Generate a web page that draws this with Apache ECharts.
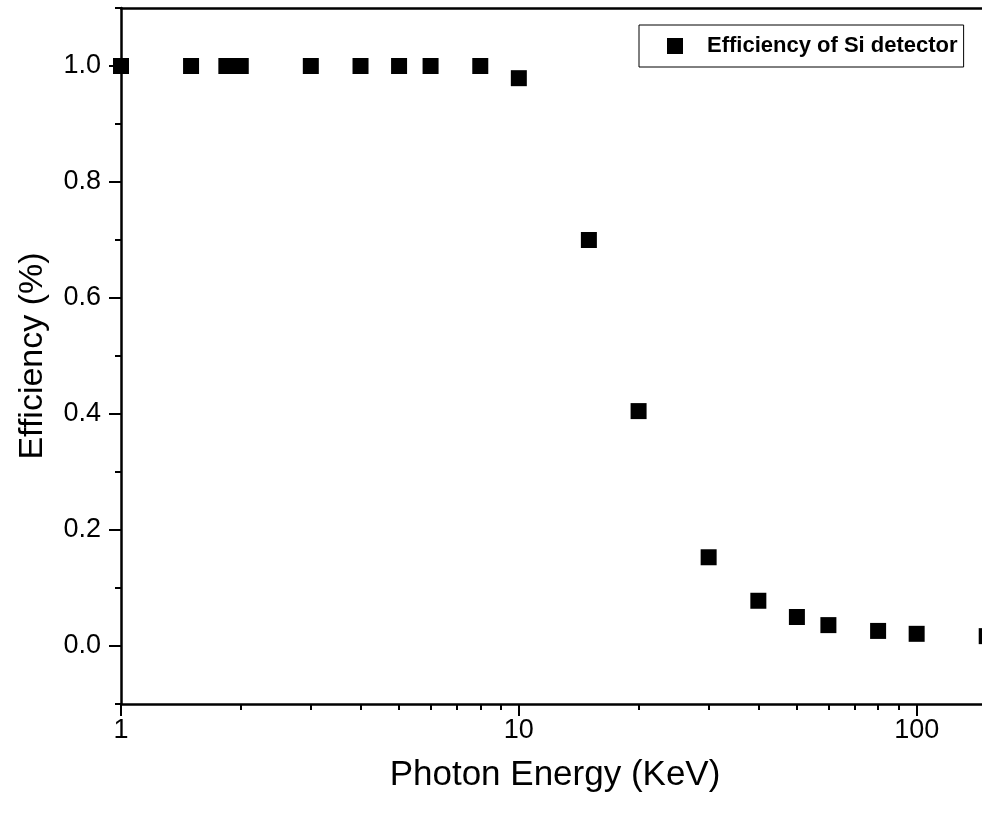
<!DOCTYPE html>
<html>
<head>
<meta charset="utf-8">
<script src="https://cdn.jsdelivr.net/npm/echarts@6/dist/echarts.min.js"></script>
<style>
html,body{margin:0;padding:0;background:#fff;}
#chart{width:982px;height:815px;}
</style>
</head>
<body>
<div id="chart"></div>
<script>
// Data
const energies = [1, 1.5, 1.84, 2, 3, 4, 5, 6, 8, 10, 15, 20, 30, 40, 50, 60, 80, 100, 150];
const efficiency = [1.0, 1.0, 1.0, 1.0, 1.0, 1.0, 1.0, 1.0, 1.0, 0.979, 0.700, 0.405, 0.153, 0.078, 0.050, 0.036, 0.026, 0.021, 0.017];
const xMajorTicks = [1, 10, 100];
const xMinorTicks = [2, 3, 4, 5, 6, 7, 8, 9, 20, 30, 40, 50, 60, 70, 80, 90];
const yMajorTicks = [0, 0.2, 0.4, 0.6, 0.8, 1.0];
const yMinorTicks = [-0.1, 0.1, 0.3, 0.5, 0.7, 0.9, 1.1];
const seriesName = 'Efficiency of Si detector';
const xTitle = 'Photon Energy (KeV)';
const yTitle = 'Efficiency (%)';

const FONT = '"Liberation Sans", Arial, Helvetica, sans-serif';
const chart = echarts.init(document.getElementById('chart'), null, {renderer: 'canvas'});
const pts = energies.map((e, i) => [e, efficiency[i]]);
const axisLine = {show: true, onZero: false, lineStyle: {color: '#000', width: 2.5}};

chart.setOption({
  animation: false,
  backgroundColor: '#fff',
  grid: {left: 121, right: -7, top: 8, bottom: 111, containLabel: false, outerBoundsMode: 'none'},
  legend: {
    left: 639, top: 25,
    padding: [10, 6, 10, 28],
    borderColor: '#000', borderWidth: 1,
    itemWidth: 16, itemHeight: 16,
    icon: 'rect',
    itemStyle: {color: '#000', opacity: 1},
    textStyle: {fontFamily: FONT, fontSize: 22, fontWeight: 'bold', color: '#000', padding: [0, 0, 0, 19]},
    data: [seriesName]
  },
  xAxis: [
    {
      type: 'log', logBase: 10, min: 1, max: 152, position: 'bottom',
      axisLine: axisLine,
      axisTick: {show: true, inside: false, length: 12, lineStyle: {color: '#000', width: 2}, customValues: xMajorTicks},
      axisLabel: {show: true, customValues: xMajorTicks, fontFamily: FONT, fontSize: 27, color: '#000', margin: 13,
        formatter: v => String(Math.round(v))},
      splitLine: {show: false}, minorTick: {show: false},
      name: xTitle, nameLocation: 'middle', nameGap: 54,
      nameTextStyle: {fontFamily: FONT, fontSize: 35, color: '#000'}
    },
    {
      type: 'log', logBase: 10, min: 1, max: 152, position: 'bottom',
      axisLine: {show: false, onZero: false},
      axisTick: {show: true, inside: false, length: 6, lineStyle: {color: '#000', width: 2}, customValues: xMinorTicks},
      axisLabel: {show: false}, splitLine: {show: false}
    },
    {
      type: 'log', logBase: 10, min: 1, max: 152, position: 'top',
      axisLine: axisLine, axisTick: {show: false}, axisLabel: {show: false}, splitLine: {show: false}
    }
  ],
  yAxis: [
    {
      type: 'value', min: -0.1, max: 1.1, position: 'left',
      axisLine: axisLine,
      axisTick: {show: true, inside: false, length: 12, lineStyle: {color: '#000', width: 2}, customValues: yMajorTicks},
      axisLabel: {show: true, customValues: yMajorTicks, fontFamily: FONT, fontSize: 27, color: '#000', margin: 20,
        formatter: v => v.toFixed(1)},
      splitLine: {show: false},
      name: yTitle, nameLocation: 'middle', nameGap: 71,
      nameTextStyle: {fontFamily: FONT, fontSize: 34, color: '#000'}
    },
    {
      type: 'value', min: -0.1, max: 1.1, position: 'left',
      axisLine: {show: false, onZero: false},
      axisTick: {show: true, inside: false, length: 6, lineStyle: {color: '#000', width: 2}, customValues: yMinorTicks},
      axisLabel: {show: false}, splitLine: {show: false}
    }
  ],
  series: [{
    name: seriesName,
    type: 'scatter',
    xAxisIndex: 0, yAxisIndex: 0,
    symbol: 'rect', symbolSize: 16,
    itemStyle: {color: '#000', opacity: 1},
    data: pts
  }]
});
</script>
</body>
</html>
